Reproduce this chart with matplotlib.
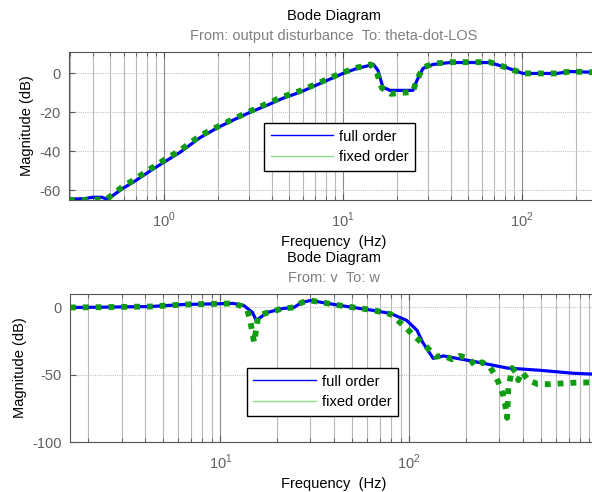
import math
import matplotlib
matplotlib.use('Agg')
import matplotlib.pyplot as plt
from matplotlib.ticker import LogLocator, NullFormatter, FixedLocator

plt.rcParams['font.family'] = ['Liberation Sans', 'DejaVu Sans']
plt.rcParams['mathtext.fontset'] = 'custom'
plt.rcParams['mathtext.rm'] = 'Liberation Sans'
plt.rcParams['axes.unicode_minus'] = False

# output disturbance -> theta-dot-LOS
f_top_full = [0.295, 0.36, 0.40, 0.45, 0.48, 0.52, 0.59, 0.67, 0.84, 1.0, 1.23, 1.59, 1.98,
              2.43, 3.02, 3.76, 4.6, 5.75, 7.7, 10, 12, 14.8, 15.7, 16.7, 18.3, 24.6, 25.9,
              28, 31.8, 39.7, 66, 82, 101, 157, 186, 266]
mag_top_full = [-64.6, -64.3, -63.6, -63.6, -64.6, -62.6, -59, -56, -50, -45.6, -40.5, -33, -28,
                -24, -20, -16.4, -12.8, -9.7, -4.6, 0, 2.6, 4.6, 1.5, -7, -8.7, -8.7, -3.6,
                2.6, 4.6, 5.6, 5.6, 3, 0, 0, 1, 0.5]
f_top_fixed = [0.295, 0.40, 0.48, 0.52, 0.59, 0.67, 0.84, 1.0, 1.23, 1.59, 1.98, 2.43, 3.02,
               3.76, 4.6, 5.75, 7.7, 10, 12, 14.3, 15.5, 16.5, 18.5, 24.5, 26, 28, 31.8, 39.7,
               66, 82, 101, 157, 186, 266]
mag_top_fixed = [-65, -65, -64.5, -62, -58, -55, -49, -44.5, -39.5, -32, -27.5, -23.5, -19.5,
                 -15.5, -12, -9, -4, 0.5, 3, 4.6, 0, -7.5, -10.5, -9.5, -3, 3, 5, 5.8,
                 5.8, 3, 0, 0, 1, 0.5]

# v -> w
f_bot_full = [1.6, 2.32, 4.27, 6.4, 11.7, 13.3, 14.8, 15.5, 16.3, 17.7, 21.5, 24.5, 27, 30, 43,
              64.5, 79.5, 97, 110, 118, 134, 152, 218, 330, 493, 740, 1000]
mag_bot_full = [0, 0.2, 0.7, 2.2, 3, 1.5, -3.7, -9.6, -7.4, -3.7, -0.7, 0, 3.7, 5.2, 1.5,
                -2.2, -4.4, -9.6, -17, -26, -37.8, -36, -40, -45, -46.7, -48.9, -49.7]
f_bot_fixed = [1.6, 2.32, 4.27, 6.4, 11.7, 13.0, 13.9, 14.4, 15.1, 15.9, 17.9, 21.5, 24.5, 27,
               30, 43, 64.5, 80, 93, 110, 125, 138, 152, 169, 186, 210, 224, 243, 268, 284,
               302, 314, 324, 330, 335, 343, 351, 372, 378, 396, 427, 480, 557, 728, 1000]
mag_bot_fixed = [0, 0.2, 0.7, 2.2, 3, 1, -2.2, -9.6, -26, -6, -3.7, -0.7, 0, 3.7,
                 5.2, 1.5, -2, -5, -13.3, -23, -30, -36.5, -36, -38.5, -36, -38.5, -43.7, -40.7,
                 -44.4, -50, -57.8, -65, -74, -82, -60, -52.6, -45, -49, -54, -48, -54, -57,
                 -57, -56, -55.5]

labels = ['full order', 'fixed order']
fs = 10.5
tick_grey = '#606060'


def bode_panel(ax, f1, m1, f2, m2, xlim, ylim, xticks, yticks, subtitle, leg_anchor):
    ax.set_xscale('log')
    ax.set_xlim(xlim)
    ax.set_ylim(ylim)
    ax.yaxis.set_major_locator(FixedLocator(yticks))
    ax.xaxis.set_major_locator(FixedLocator(xticks))
    ax.set_xticklabels(['$10^{%d}$' % round(math.log10(t)) for t in xticks])
    ax.xaxis.set_minor_locator(LogLocator(base=10, subs=range(2, 10)))
    ax.xaxis.set_minor_formatter(NullFormatter())
    ax.grid(True, which='minor', axis='x', color='#b8b8b8', lw=0.8)
    ax.grid(True, which='major', axis='x', color='#8a8a8a', lw=0.8)
    ax.grid(True, which='major', axis='y', color='#c4c4c4', lw=0.8, ls=(0, (1, 1)))
    ax.set_axisbelow(True)
    ax.tick_params(which='both', direction='in', top=True, right=True, colors='#555555',
                   labelcolor=tick_grey, labelsize=fs)
    ax.tick_params(axis='x', pad=8)
    ax.tick_params(axis='y', pad=6)
    ax.tick_params(which='major', length=4)
    ax.tick_params(which='minor', length=3)
    for s in ax.spines.values():
        s.set_color('#555555')

    # legend handles are thin, plotted curves are thick
    ax.plot(f1, m1, color='#0000ff', lw=2.3)
    ax.plot(f2, m2, color='#109c10', lw=4.2, ls=(0, (1, 1.2)))
    h1, = ax.plot([], [], color='#0000ff', lw=1)
    h2, = ax.plot([], [], color='#8ee08e', lw=1)
    leg = ax.legend([h1, h2], labels, loc='upper left', bbox_to_anchor=leg_anchor,
                    borderaxespad=0, fontsize=fs, frameon=True, fancybox=False,
                    edgecolor='black', handlelength=4.3, handletextpad=0.4,
                    borderpad=0.45, labelspacing=0.45)
    leg.get_frame().set_linewidth(1.0)
    leg.get_frame().set_alpha(1)

    ax.set_ylabel('Magnitude (dB)', fontsize=fs)
    ax.set_xlabel('Frequency  (Hz)', fontsize=fs, labelpad=3)
    ax.text(0.5, 1.243, 'Bode Diagram', transform=ax.transAxes, ha='center', va='center',
            fontsize=fs)
    ax.text(0.5, 1.108, subtitle, transform=ax.transAxes, ha='center', va='center',
            fontsize=fs, color='#808080')


fig = plt.figure(figsize=(5.92, 4.92), dpi=100)
ax1 = fig.add_axes([0.1166, 0.5935, 0.8936, 0.3008])
ax2 = fig.add_axes([0.1182, 0.1016, 0.8920, 0.3008])

bode_panel(ax1, f_top_full, mag_top_full, f_top_fixed, mag_top_fixed,
           (0.295, 266), (-65, 11), [1, 10, 100], [-60, -40, -20, 0],
           'From: output disturbance  To: theta-dot-LOS', (0.3686, 0.52))
bode_panel(ax2, f_bot_full, mag_bot_full, f_bot_fixed, mag_bot_fixed,
           (1.6, 1000), (-100, 10), [10, 100], [-100, -50, 0],
           'From: v  To: w', (0.335, 0.5))

fig.savefig('out.png', dpi=100)
